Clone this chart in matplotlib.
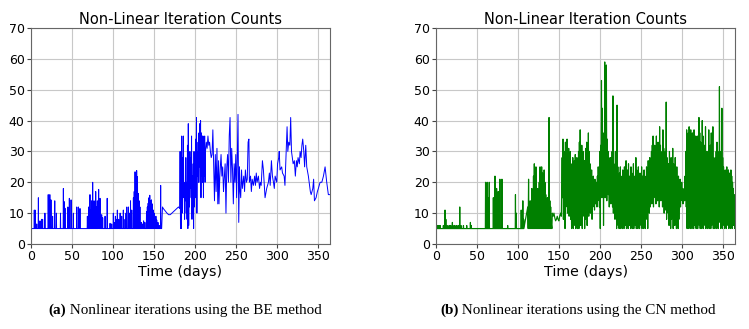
import matplotlib
matplotlib.use("Agg")
import matplotlib.pyplot as plt

# ---- BE method ----
# isolated spikes above the 5-iteration floor, (day, iterations)
be_spikes = [
    (4, 11), (5, 11), (7, 6.5), (9, 15), (11, 7.5), (13, 8), (14.2, 8), (17, 10),
    (21, 16), (23, 16), (24.4, 14.3), (26.4, 9), (29, 14), (31, 10), (36, 10),
    (39.5, 18), (40.7, 13.7), (41.5, 11.6), (45, 12), (46.8, 14.8), (48.9, 14.3),
    (51.7, 10), (55.8, 12), (57.8, 12), (59.8, 11.5),
    (68.8, 9), (70.4, 12), (72, 16), (73, 11), (74, 14), (75.3, 20), (76, 12),
    (77, 14), (78, 10), (79, 17), (80, 12), (81, 14), (82, 11), (82.6, 17.7),
    (83.5, 10), (84.3, 14.8), (85, 9), (86.3, 9.5), (87.5, 8.5), (90.4, 9), (93, 14.8),
    (96.5, 6.7), (98.5, 6.5), (100.5, 10), (101.5, 7), (103, 9), (104, 8),
    (105.4, 11), (107, 8), (108.8, 10), (110.7, 9), (112.7, 11), (114.8, 8),
    (116, 10), (117, 12), (119, 12), (120.5, 10), (121.5, 14), (123, 11), (125, 15),
    (126, 17), (127, 23.4), (128, 22), (129, 23.8), (130, 21.8), (131, 16.4),
    (132, 14), (133, 12), (134.5, 7), (136, 6.5), (137.5, 7.5), (139, 7),
    (141, 10.5), (142, 12), (143, 13.2), (144, 15), (145, 15.8), (146, 14),
    (147, 14.3), (148, 13), (149.4, 11), (150.5, 10), (151.4, 8.3), (152.5, 9),
    (153.5, 7.8), (155, 7), (156.5, 6), (158.3, 19),
]
be_calm = [(159.5, 5), (160.5, 12), (161.5, 11.5), (163, 11), (164.5, 10.5), (166, 10),
           (168, 9.5), (170, 9.5), (172, 10), (174, 10.5), (176, 11), (178, 11.5),
           (180, 12), (181.5, 11.5)]
# daily max / min in the busy stretch, days 182..212
be_hi = [30, 18, 35, 28, 35, 18, 20, 28, 20, 32, 39, 25, 30, 28, 35, 22,
         26, 30, 20, 34, 41, 30, 33, 36, 39, 40, 36, 35, 35, 31, 35]
be_lo = [5, 5, 10, 17, 15, 8, 14, 10, 8, 5, 6, 12, 18, 15, 8, 10,
         5, 12, 15, 18, 10, 22, 20, 25, 20, 15, 22, 20, 15, 22, 20]
be_late = [
    (213, 30), (214, 33), (215, 31), (216, 35), (217, 32), (218, 33), (219, 30), (220, 28),
    (221, 29), (222, 37), (223, 25), (224, 14), (225, 29), (226, 17), (227, 31), (228, 13),
    (229, 27), (229.5, 13), (230.5, 22), (232, 29), (233, 22), (234, 25), (235, 17),
    (235.6, 20), (237, 26), (238, 10), (239, 25), (240, 29), (241, 20), (242, 35), (243, 41),
    (244, 20), (245, 31), (246, 24), (247, 13), (248, 26), (249, 20), (250, 29), (251, 15),
    (252, 30), (252.7, 42), (253.6, 7), (254.5, 25), (255, 18), (256, 15), (257, 24),
    (258, 18), (259.7, 22), (260.7, 17), (261.7, 24), (263, 20), (264, 21), (265, 33),
    (266, 34), (266.6, 20), (268, 22), (269, 17), (270, 21), (271.5, 19), (273, 22),
    (274, 19), (275, 23), (276, 20), (277.6, 22), (279, 18), (280, 20), (281, 19),
    (282.5, 27), (283.7, 24), (285.7, 15), (287.7, 18), (289.8, 20), (291, 23), (292, 19),
    (293.5, 27), (294.7, 22), (296, 20), (297, 18), (298, 22), (300, 20), (301, 26),
    (302.4, 28), (303, 30), (304, 24), (306, 25), (307, 23), (309, 22), (310, 19), (311, 26),
    (312.6, 38), (313.5, 30), (314.6, 33), (316, 32), (317, 41), (318, 30), (319, 28),
    (320, 26), (321.5, 27), (322.7, 22), (324, 27), (325, 25), (326, 28), (327.6, 26),
    (328.5, 30), (329.7, 28), (330.7, 32), (331.7, 34), (333, 30), (334, 25), (335.4, 32),
    (336.6, 25), (338.6, 22), (340, 19), (341, 17), (342, 16), (344, 18), (345, 21),
    (346, 14), (348, 15), (349.6, 17), (350.8, 18), (352.9, 20), (355, 20), (357, 22),
    (359, 25), (361, 20), (363, 16), (364.5, 16),
]

# ---- CN method (right panel) ----
cn_spikes = [
    (2, 6), (3.5, 6), (5, 6), (9, 6), (11, 11), (12, 8), (13.5, 6), (16, 6), (17, 6),
    (18, 6), (20, 7), (22, 6), (23, 6), (25, 6), (27, 6), (28, 6), (29, 12), (30.5, 6),
    (33.5, 6), (37.5, 6), (42, 7), (43, 6), (60.5, 20), (62.5, 20), (64, 15), (65, 20),
    (70, 15), (72, 22), (74, 18), (76, 17), (78, 21), (80.5, 21), (87.5, 6), (97, 16),
    (98, 10), (104, 11), (106, 14), (107, 8),
]
# days 112..141, floor at 5
cn_cluster_hi = [12, 21, 8, 14, 6, 18, 10, 22, 26, 12,
                 25, 15, 18, 10, 20, 25, 22, 25, 23, 18,
                 24, 20, 16, 12, 15, 10, 41, 14, 12, 6]
cn_cluster_lo = [5] * len(cn_cluster_hi)
cn_calm = [(142, 10), (143, 9), (144, 10), (145, 8.5), (146, 7.5), (147, 8),
           (148, 9), (149, 8), (150, 7.5), (151, 9), (152, 10), (153, 9)]
# daily max / min, days 154..365
cn_hi = [
    28, 34, 22, 30, 33, 25, 34, 27, 31, 24,
    30, 22, 26, 28, 20, 27, 29, 24, 28, 26,
    30, 33, 37, 28, 32, 25, 30, 27, 24, 31,
    33, 28, 36, 30, 26, 22, 24, 20, 22, 19,
    21, 18, 20, 22, 25, 24, 30, 32, 53, 44,
    36, 30, 59, 40, 58, 34, 30, 28, 26, 28,
    27, 30, 48, 26, 22, 30, 24, 45, 25, 20,
    23, 25, 20, 22, 24, 21, 25, 20, 27, 22,
    24, 26, 22, 20, 25, 23, 21, 26, 22, 20,
    28, 24, 22, 25, 20, 23, 21, 25, 22, 20,
    24, 22, 21, 25, 22, 27, 23, 28, 25, 30,
    32, 35, 28, 32, 30, 35, 31, 33, 30, 38,
    32, 28, 30, 37, 31, 28, 30, 46, 28, 25,
    26, 30, 24, 28, 22, 31, 26, 24, 28, 22,
    25, 20, 22, 18, 21, 19, 20, 18, 17, 18,
    22, 30, 37, 33, 36, 38, 35, 37, 34, 36,
    33, 37, 30, 35, 28, 35, 32, 41, 36, 33,
    30, 40, 35, 30, 32, 38, 30, 27, 30, 37,
    28, 32, 36, 30, 38, 28, 26, 28, 30, 33,
    30, 28, 51, 30, 26, 44, 28, 25, 22, 24,
    23, 25, 22, 24, 23, 20, 24, 22, 20, 18, 16, 14,
]
cn_lo = [
    15, 8, 18, 5, 12, 16, 10, 14, 9, 15,
    8, 5, 12, 5, 6, 10, 5, 8, 5, 12,
    5, 10, 6, 14, 5, 9, 12, 5, 8, 10,
    6, 12, 9, 15, 10, 13, 8, 12, 14, 11,
    13, 15, 12, 14, 16, 12, 5, 18, 15, 20,
    6, 17, 15, 20, 14, 18, 16, 12, 15, 13,
    14, 12, 10, 15, 8, 12, 5, 10, 6, 5,
    8, 5, 12, 5, 9, 5, 11, 6, 5, 10,
    5, 9, 6, 5, 12, 5, 8, 5, 10, 6,
    5, 11, 5, 8, 5, 12, 6, 5, 9, 5,
    10, 5, 12, 8, 5, 14, 10, 12, 15, 13,
    16, 12, 18, 15, 13, 17, 14, 16, 12, 15,
    14, 18, 12, 15, 10, 13, 11, 8, 12, 10,
    6, 10, 5, 8, 12, 5, 9, 6, 10, 5,
    12, 5, 8, 13, 12, 15, 14, 13, 15, 14,
    16, 12, 5, 8, 5, 10, 5, 7, 5, 9,
    5, 6, 12, 5, 8, 5, 10, 6, 5, 9,
    5, 8, 5, 10, 6, 5, 12, 5, 8, 5,
    10, 5, 6, 12, 5, 9, 5, 8, 5, 10,
    5, 7, 12, 5, 9, 5, 11, 6, 5, 8,
    5, 10, 6, 5, 9, 5, 7, 5, 8, 6, 5, 10,
]


def spikes(pairs, base=5.0, w=0.25):
    t, v = [], []
    for ti, vi in pairs:
        t += [ti - w, ti, ti + w]
        v += [base, vi, base]
    return t, v


def zigzag(start, hi, lo):
    t, v = [], []
    for i, (h, l) in enumerate(zip(hi, lo)):
        t += [start + i, start + i + 0.5]
        v += [h, l]
    return t, v


def build(parts):
    t, v = [0.0], [5.0]
    for pt, pv in parts:
        t += list(pt)
        v += list(pv)
    return t, v


be_t, be_n = build([
    spikes(be_spikes),
    zip(*be_calm),
    zigzag(182, be_hi, be_lo),
    zip(*be_late),
])
cn_t, cn_n = build([
    spikes(cn_spikes),
    zigzag(112, cn_cluster_hi, cn_cluster_lo),
    zip(*cn_calm),
    zigzag(154, cn_hi, cn_lo),
])

fig = plt.figure(figsize=(7.49, 3.29), dpi=100)
ax1 = fig.add_axes([31 / 749, 85 / 329, 299 / 749, 216 / 329])
ax2 = fig.add_axes([436 / 749, 85 / 329, 299 / 749, 216 / 329])

for ax, t, n, col, lw in [(ax1, be_t, be_n, "blue", 0.7), (ax2, cn_t, cn_n, "green", 0.85)]:
    ax.plot(t, n, color=col, lw=lw)
    ax.set_xlim(0, 365)
    ax.set_ylim(0, 70)
    ax.set_xticks(range(0, 351, 50))
    ax.set_yticks(range(0, 71, 10))
    ax.grid(color="#c8c8c8", lw=0.8)
    ax.set_axisbelow(True)
    ax.tick_params(labelsize=9, length=3, width=0.8, color="#444444", pad=1.5)
    for s in ax.spines.values():
        s.set_color("#666666")
        s.set_linewidth(0.8)
    ax.set_title("Non-Linear Iteration Counts", fontsize=10.5, pad=3)
    ax.set_xlabel("Time (days)", fontsize=10.2, labelpad=1)

# captions under each panel: bold tag + regular text, serif
captions = [("(a)", " Nonlinear iterations using the BE method", 185),
            ("(b)", " Nonlinear iterations using the CN method", 578)]
fig.canvas.draw()
r = fig.canvas.get_renderer()
for tag, text, cx in captions:
    a = fig.text(0, 0, tag, family="Liberation Serif", fontweight="bold", fontsize=10.9)
    b = fig.text(0, 0, text, family="Liberation Serif", fontsize=10.9)
    wa = a.get_window_extent(r).width
    wb = b.get_window_extent(r).width
    x0 = cx - (wa + wb) / 2
    y0 = 329 - 314
    a.set_position((x0 / 749, y0 / 329))
    b.set_position(((x0 + wa) / 749, y0 / 329))

fig.savefig("out.png", dpi=100)
